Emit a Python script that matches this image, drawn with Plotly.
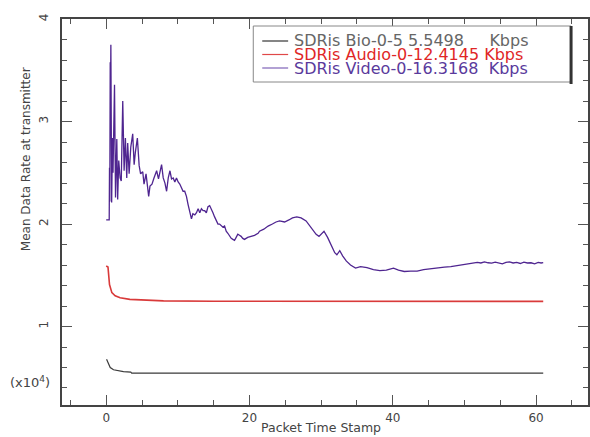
import plotly.graph_objects as go

# ---- data (values in units of 10^4 bits/s) ----
video_t = [0, 0.42, 0.46, 0.5, 0.56, 0.6, 0.65, 0.76, 0.88, 0.95, 1.16, 1.3, 1.48, 1.6, 1.75, 1.94,
           2.1, 2.31, 2.5, 2.68, 2.87, 3.0, 3.2, 3.43, 3.7, 3.9, 4.07, 4.35, 4.6, 4.8, 5.1, 5.28,
           5.56, 5.75, 5.93, 6.11, 6.39, 6.67, 7.04, 7.3, 7.5, 7.73, 7.96, 8.2, 8.43, 8.66, 8.9,
           9.12, 9.35, 9.58, 9.81, 10.04, 10.27, 10.5, 10.73, 10.96, 11.2, 11.43, 11.66, 11.9,
           12.1, 12.37, 12.6, 12.83, 13.06, 13.29, 13.52, 13.75, 13.98, 14.21, 14.44, 14.67, 14.9,
           15.13, 15.37, 15.6, 15.83, 16.06, 16.29, 16.52, 16.75, 16.98, 17.2, 17.45, 17.68, 17.91,
           18.14, 18.37, 18.6, 18.83, 19.06, 19.3, 19.75, 20.2, 20.7, 21.2, 21.4, 22.0, 22.6, 23.2,
           23.7, 24.2, 24.9, 25.5, 26.0, 26.6, 27.2, 27.9, 28.6, 29.3, 29.7, 30.4, 30.9, 31.4, 31.9,
           32.2, 32.6, 33.0, 33.5, 34.1, 34.8, 35.5, 36.4, 37.3, 38.2, 39.1, 40.1, 40.8, 41.6, 42.5,
           43.4, 44.3, 45.3, 46.2, 47.2, 48.1, 49.0, 49.9, 50.9, 51.8, 52.3, 52.8, 53.3, 53.8, 54.3,
           54.8, 55.3, 55.8, 56.3, 56.8, 57.3, 57.8, 58.3, 58.8, 59.3, 59.8, 60.3, 60.7, 61.0]
video_v = [2.04, 2.04, 2.55, 2.22, 3.58, 3.2, 3.75, 2.21, 2.84, 2.5, 3.36, 2.26, 2.83, 2.24, 2.62, 2.45,
           2.42, 3.2, 2.52, 2.84, 2.45, 2.79, 2.49, 2.75, 2.88, 2.58, 2.70, 2.84, 2.57, 2.49, 2.51, 2.39,
           2.49, 2.39, 2.27, 2.37, 2.39, 2.45, 2.52, 2.44, 2.52, 2.58, 2.45, 2.40, 2.32, 2.45, 2.52,
           2.44, 2.45, 2.41, 2.45, 2.41, 2.39, 2.36, 2.32, 2.32, 2.27, 2.19, 2.13, 2.05,
           2.10, 2.09, 2.11, 2.15, 2.11, 2.15, 2.13, 2.13, 2.11, 2.17, 2.18, 2.15, 2.11,
           2.07, 2.04, 2.00, 2.00, 1.98, 1.97, 1.98, 1.93, 1.91, 1.88, 1.86, 1.85, 1.84,
           1.87, 1.90, 1.89, 1.88, 1.86, 1.85, 1.87, 1.88, 1.89, 1.91, 1.93, 1.95, 1.98, 2.00,
           2.02, 2.03, 2.02, 2.04, 2.06, 2.07, 2.06, 2.03, 1.97, 1.90, 1.88, 1.93, 1.87, 1.79, 1.72,
           1.70, 1.74, 1.69, 1.64, 1.60, 1.57, 1.585, 1.575, 1.555, 1.545, 1.55, 1.57, 1.55, 1.537, 1.54,
           1.54, 1.555, 1.565, 1.57, 1.58, 1.585, 1.595, 1.605, 1.615, 1.625, 1.62, 1.63, 1.622, 1.618,
           1.628, 1.62, 1.612, 1.625, 1.63, 1.62, 1.625, 1.615, 1.628, 1.62, 1.622, 1.612, 1.625, 1.62, 1.624]

audio_t = [0, 0.25, 0.46, 0.79, 1.25, 1.94, 3.3, 5.6, 8.0, 15.0, 30.0, 61.0]
audio_v = [1.59, 1.58, 1.41, 1.33, 1.30, 1.28, 1.265, 1.255, 1.25, 1.247, 1.245, 1.245]

bio_t = [0.05, 0.32, 0.56, 1.02, 1.71, 2.41, 3.43, 3.56, 61.0]
bio_v = [0.68, 0.633, 0.60, 0.578, 0.568, 0.56, 0.555, 0.545, 0.545]

legend_names = ["SDRis Bio-0-5 5.5498\u00a0\u00a0\u00a0\u00a0 Kbps",
                "SDRis Audio-0-12.4145 Kbps",
                "SDRis Video-0-16.3168\u00a0 Kbps"]
line_colors = ["#3a3a3a", "#d93a3a", "#4f2590"]
legend_line_colors = ["#333333", "#e04848", "#7e62b8"]
legend_text_colors = ["#666666", "#e02626", "#5a3a9c"]

x_ticks = [0, 20, 40, 60]
y_ticks = [1, 2, 3, 4]

FONT = "DejaVu Sans"

fig = go.Figure()
for t, v, c, w in [(bio_t, bio_v, line_colors[0], 1.2),
                   (audio_t, audio_v, line_colors[1], 1.6),
                   (video_t, video_v, line_colors[2], 1.3)]:
    fig.add_trace(go.Scatter(x=t, y=v, mode="lines", line=dict(color=c, width=w),
                             showlegend=False, hoverinfo="skip"))

W, H = 590, 437
L, R, T, B = 62, 0, 19, 32
pw, ph = W - L - R, H - T - B

def px(xp):
    return (xp - L) / pw

def py(yp):
    return (H - B - yp) / ph

axis_common = dict(showgrid=False, zeroline=False, showline=True, linecolor="#444444",
                   linewidth=1.5, mirror="allticks", ticks="inside", tickcolor="#555555",
                   tickwidth=1, ticklen=10,
                   tickfont=dict(family=FONT, size=12, color="#444444"))

fig.update_xaxes(range=[-6.17, 67.25], tickvals=x_ticks, ticktext=[str(v) for v in x_ticks],
                 minor=dict(dtick=5, tick0=0, ticks="inside", ticklen=5, tickcolor="#555555"),
                 ticklabelstandoff=1, **axis_common)
fig.update_yaxes(range=[0.234, 4.001], tickvals=y_ticks, ticktext=[str(v) for v in y_ticks],
                 tickangle=-90,
                 minor=dict(dtick=0.2, tick0=0, ticks="inside", ticklen=5, tickcolor="#555555"),
                 ticklabelstandoff=7, **axis_common)

# legend box
shapes = [
    dict(type="rect", xref="paper", yref="paper", x0=px(254), x1=px(573), y0=py(82), y1=py(26),
         line=dict(color="#888888", width=1), fillcolor="white"),
    dict(type="line", xref="paper", yref="paper", x0=px(573), x1=px(573), y0=py(84), y1=py(26),
         line=dict(color="#333333", width=3)),
]
annotations = []
rows = [41, 54.5, 68]
for i in range(3):
    shapes.append(dict(type="line", xref="paper", yref="paper", x0=px(263), x1=px(289),
                       y0=py(rows[i]), y1=py(rows[i]),
                       line=dict(color=legend_line_colors[i], width=1.2)))
    annotations.append(dict(xref="paper", yref="paper", x=px(293), y=py(rows[i]),
                            xanchor="left", yanchor="middle", showarrow=False,
                            text=legend_names[i],
                            font=dict(family=FONT, size=16, color=legend_text_colors[i])))

annotations += [
    dict(xref="paper", yref="paper", x=px(322), y=py(427), xanchor="center", yanchor="middle",
         showarrow=False, text="Packet Time Stamp", font=dict(family=FONT, size=12.5, color="#444444")),
    dict(xref="paper", yref="paper", x=px(26), y=py(159), xanchor="center", yanchor="middle",
         showarrow=False, textangle=-90, text="Mean Data Rate at transmitter",
         font=dict(family=FONT, size=12, color="#444444")),
    dict(xref="paper", yref="paper", x=px(30), y=py(382), xanchor="center", yanchor="middle",
         showarrow=False, text="(x10<sup>4</sup>)", font=dict(family=FONT, size=13, color="#444444")),
]

fig.update_layout(width=W, height=H, margin=dict(l=L, r=R, t=T, b=B, pad=0),
                  paper_bgcolor="white", plot_bgcolor="white",
                  shapes=shapes, annotations=annotations, showlegend=False)

fig.write_html("out.html", config={"displayModeBar": False},
               post_script="document.body.style.margin='0px';document.body.style.overflow='hidden';")
